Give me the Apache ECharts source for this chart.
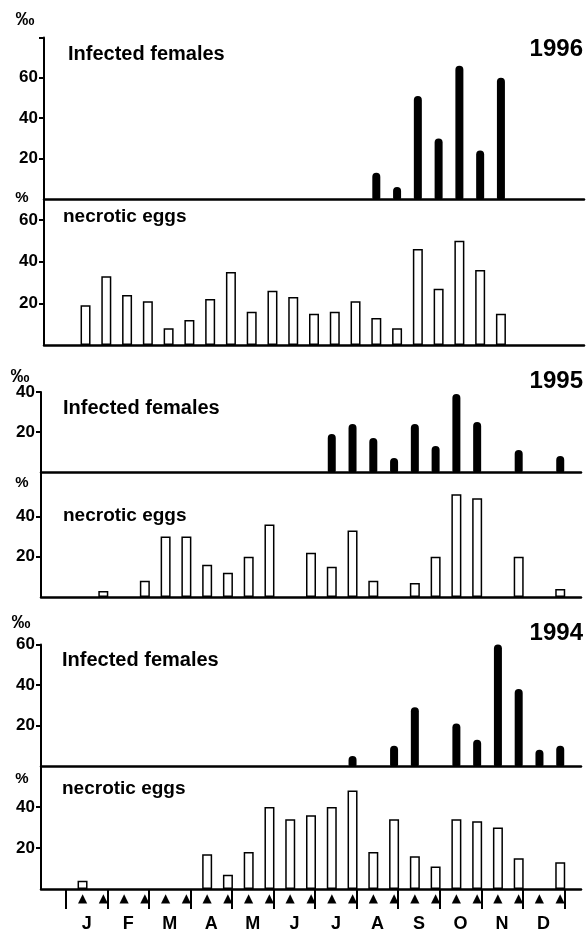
<!DOCTYPE html>
<html><head><meta charset="utf-8">
<script src="https://cdn.jsdelivr.net/npm/echarts@6/dist/echarts.min.js"></script>
<style>html,body{margin:0;padding:0;background:#fff}#c{width:586px;height:933px}</style>
</head><body><div id="c"></div>
<script>
// ---- data (half-month sampling slots, 2 per month, Jan..Dec) ----
const months = ['J','F','M','A','M','J','J','A','S','O','N','D'];
const _ = null;
const infected1996 = [_,_,_,_,_,_,_,_,_,_,_,_,_,_,13,6,51,30,66,24,60,_,_,_];
const necrotic1996 = [19,33,24,21,8,12,22,35,16,26,23,15,16,21,13,8,46,27,50,36,15,_,_,_];
const infected1995 = [_,_,_,_,_,_,_,_,_,_,_,_,19,24,17,7,24,13,39,25,_,11,_,8];
const necrotic1995 = [_,3,_,8,30,30,16,12,20,36,_,22,15,33,8,_,7,20,51,49,_,20,_,4];
const infected1994 = [_,_,_,_,_,_,_,_,_,_,_,_,_,5,_,10,29,_,21,13,60,38,8,10];
const necrotic1994 = [4,_,_,_,_,_,17,7,18,40,34,36,40,48,18,34,16,11,34,33,30,15,_,13];
const infTickLabels1996 = [20,40,60];
const necTickLabels1996 = [20,40,60];
const infTickLabels1995 = [20,40];
const necTickLabels1995 = [20,40];
const infTickLabels1994 = [20,40,60];
const necTickLabels1994 = [20,40];
const years = ['1996','1995','1994'];

// ---- layout ----
const FONT = "'Liberation Sans', Arial, sans-serif";
const SLOT0 = 2;          // x position of first half-month slot (axis units = half months)
const MONTH0 = 1.2;       // x position of 1 January
const XMAX = 26;
const GW = 540;
const panels = [
  {year:years[0], inf:infected1996, nec:necrotic1996, left:44, infTop:37.4, base:199, necBottom:345, infMax:80, necMax:70,
   infTicks:[20,40,60,80], infLabels:infTickLabels1996, necLabels:necTickLabels1996,
   permil:[25,20], pct:[22,198], infText:[68,54], necText:[63,217], yearY:49},
  {year:years[1], inf:infected1995, nec:necrotic1995, left:41, infTop:392, base:472, necBottom:597, infMax:40, necMax:62,
   infTicks:[20,40], infLabels:infTickLabels1995, necLabels:necTickLabels1995,
   permil:[20,377], pct:[22,483], infText:[63,408], necText:[63,516], yearY:381},
  {year:years[2], inf:infected1994, nec:necrotic1994, left:41, infTop:644.5, base:766, necBottom:893, infMax:60, necMax:60,
   infTicks:[20,40,60], infLabels:infTickLabels1994, necLabels:necTickLabels1994,
   permil:[21,623], pct:[22,779], infText:[62,660], necText:[62,789], yearY:633}
];

const grids = [], xAxes = [], yAxes = [], series = [], graphics = [];
const toPairs = arr => arr.map((v,k) => v == null ? null : [k + SLOT0, v]).filter(d => d);

function yAx(gi, max, ticks, labels) {
  return {type:'value', gridIndex:gi, min:0, max:max,
    axisLine:{show:true, onZero:false, lineStyle:{color:'#000', width:2}},
    splitLine:{show:false},
    axisTick:{show:true, customValues:ticks, length:5, lineStyle:{color:'#000', width:2}},
    axisLabel:{customValues:labels, color:'#000', fontSize:17, fontWeight:'bold', fontFamily:FONT, margin:6}};
}
function xAx(gi) {
  return {type:'value', gridIndex:gi, min:0, max:XMAX, position:'bottom',
    axisLine:{show:true, onZero:false, lineStyle:{color:'#000', width:2.5}},
    splitLine:{show:false}, axisTick:{show:false}, axisLabel:{show:false}};
}

panels.forEach((p, i) => {
  const gInf = i*2, gNec = i*2+1;
  grids.push({left:p.left, top:p.infTop, width:GW, height:p.base - p.infTop});
  grids.push({left:p.left, top:p.base, width:GW, height:p.necBottom - p.base});
  xAxes.push(xAx(gInf)); xAxes.push(xAx(gNec));
  yAxes.push(yAx(gInf, p.infMax, p.infTicks, p.infLabels));
  const necTicks = p.necLabels.slice();
  yAxes.push(yAx(gNec, p.necMax, necTicks, p.necLabels));
  series.push({type:'bar', xAxisIndex:gInf, yAxisIndex:gInf, data:toPairs(p.inf), barWidth:8,
    itemStyle:{color:'#000', borderRadius:[4,4,1,1]}, silent:true});
  series.push({type:'bar', xAxisIndex:gNec, yAxisIndex:gNec, data:toPairs(p.nec), barWidth:10,
    itemStyle:{color:'#fff', borderColor:'#000', borderWidth:1.5}, silent:true});
  const txt = (x, y, t, size, align) => graphics.push({type:'text', x:x, y:y, silent:true,
    style:{text:t, fill:'#000', fontSize:size, fontWeight:'bold', fontFamily:FONT, align:align, verticalAlign:'middle'}});
  txt(p.permil[0], p.permil[1], '‰', 19, 'center');
  txt(p.pct[0], p.pct[1], '%', 15, 'center');
  txt(p.infText[0], p.infText[1], 'Infected females', 20, 'left');
  txt(p.necText[0], p.necText[1], 'necrotic eggs', 19, 'left');
  txt(583, p.yearY, p.year, 24, 'right');
});

// bottom axis: month boundaries, month letters, sampling arrows
const lastGrid = grids.length - 1;
const monthEdges = [], monthCenters = [], slotPos = [];
for (let m = 0; m <= 12; m++) monthEdges.push(MONTH0 + 2*m);
for (let m = 0; m < 12; m++) monthCenters.push(MONTH0 + 1 + 2*m);
for (let k = 0; k < 24; k++) slotPos.push(SLOT0 + k);
const bottom = xAxes[lastGrid];
bottom.axisTick = {show:true, customValues:monthEdges, length:20, lineStyle:{color:'#000', width:2}};
bottom.axisLabel = {show:true, customValues:monthCenters, margin:26, color:'#000', fontSize:18, fontWeight:'bold', fontFamily:FONT,
  formatter: v => months[Math.round((v - MONTH0 - 1)/2)] || ''};
xAxes.push({type:'value', gridIndex:lastGrid, min:0, max:XMAX, position:'bottom',
  axisLine:{show:false}, axisTick:{show:false}, splitLine:{show:false},
  axisLabel:{show:true, customValues:slotPos, margin:4, color:'#000', fontSize:12, fontFamily:"'DejaVu Sans', sans-serif", formatter:() => '▲'}});

const chart = echarts.init(document.getElementById('c'), null, {renderer:'canvas'});
chart.setOption({
  animation:false, backgroundColor:'#fff',
  grid:grids, xAxis:xAxes, yAxis:yAxes, series:series, graphic:graphics
});
</script></body></html>
